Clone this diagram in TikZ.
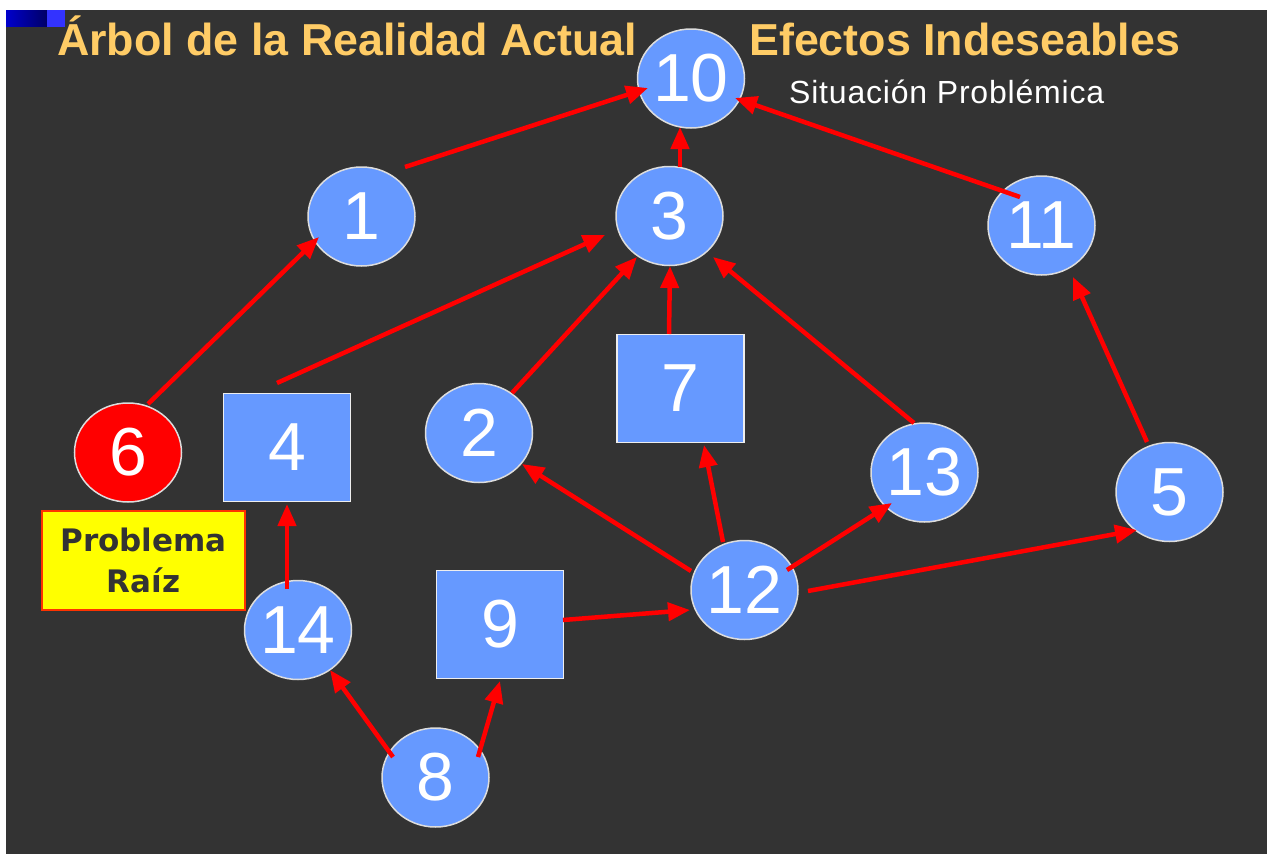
\documentclass[tikz,border=0pt]{standalone}
\usepackage{fontspec}
\setmainfont{Liberation Sans}
\newfontfamily\dejavu{DejaVu Sans}
\newfontfamily\spaced[LetterSpace=2.5]{Liberation Sans}
\usetikzlibrary{arrows.meta,calc,shapes.geometric}
\definecolor{bgdark}{HTML}{333333}
\definecolor{nodeblue}{HTML}{6699FF}
\definecolor{arrred}{HTML}{FF0000}
\definecolor{titlecol}{HTML}{FFCC66}
\definecolor{circline}{HTML}{DDDDDD}
\definecolor{sqline}{HTML}{EEEEEE}
\definecolor{rootyellow}{HTML}{FFFF00}
\definecolor{rootline}{HTML}{FF3300}
\definecolor{roottext}{HTML}{333333}
\definecolor{navyA}{HTML}{0000CC}
\definecolor{navyB}{HTML}{000066}
\definecolor{brightblue}{HTML}{3333FF}
\begin{document}
\begin{tikzpicture}[x=1pt,y=-1pt,
  circ/.style={ellipse, draw=circline, line width=1.5pt, fill=nodeblue,
    minimum width=107pt, minimum height=99pt, inner sep=0pt, text=white,
    font=\fontsize{68}{68}\selectfont},
  sq/.style={rectangle, draw=sqline, line width=1.5pt, fill=nodeblue,
    minimum width=127pt, minimum height=108pt, inner sep=0pt, text=white,
    font=\fontsize{68}{68}\selectfont},
  rootbox/.style={rectangle, draw=rootline, line width=2pt, fill=rootyellow,
    minimum width=203pt, minimum height=99pt, inner sep=0pt, text=roottext,
    align=center, font=\dejavu\bfseries\fontsize{31}{41}\selectfont},
  titletext/.style={anchor=base west, inner sep=0pt, text=titlecol,
    font=\bfseries\fontsize{44.8}{45}\selectfont},
  subtext/.style={anchor=base west, inner sep=0pt, text=white,
    font=\spaced\fontsize{32}{32}\selectfont},
  arr/.style={draw=arrred, line width=4.5pt, -{Triangle[length=22pt,width=18pt]}}]
% page and background
\useasboundingbox (0,0) rectangle (1267,854);
\fill[white] (0,0) rectangle (1267,854);
\fill[bgdark] (6,10) rectangle (1267,854);
\shade[left color=navyA, right color=navyB] (6,10) rectangle (47,26);
\fill[brightblue] (47,10) rectangle (65,27);
% titles
\node[titletext] (t1) at (57,55) {Árbol de la Realidad Actual};
\node[titletext] (t2) at (749,55) {Efectos Indeseables};
\node[subtext] (t3) at (789,103) {Situación Problémica};
% nodes
\node[circ] (n10) at (691,78.5) {10};
\node[circ] (n1) at (361.5,216.5) {1};
\node[circ] (n3) at (669.5,216) {3};
\node[circ] (n11) at (1041.5,225.5) {11};
\node[circ,fill=arrred] (n6) at (128,452.5) {6};
\node[sq] (n4) at (287,447.5) {4};
\node[circ] (n2) at (479,433) {2};
\node[sq] (n7) at (680.5,388.5) {7};
\node[circ] (n13) at (924.5,472.5) {13};
\node[circ] (n5) at (1169.5,492) {5};
\node[circ] (n12) at (744.5,590) {12};
\node[circ] (n14) at (298,630) {14};
\node[sq] (n9) at (500,624.5) {9};
\node[circ] (n8) at (435.5,777.5) {8};
\node[rootbox] (root) at (143.5,560.5) {Problema\\Raíz};
% connectors
\draw[arr] ($(n1)+(43.5,-49.5)$) -- ($(n10)+(-43,9.5)$);
\draw[arr] ($(n3)+(10.5,-49)$) -- ($(n10)+(-11,48.5)$);
\draw[arr] ($(n11)+(-21.5,-28.5)$) -- ($(n10)+(44,19.5)$);
\draw[arr] ($(n6)+(20,-48.5)$) -- ($(n1)+(-42.5,20.5)$);
\draw[arr] ($(n4)+(-10,-64.5)$) -- ($(n3)+(-64.5,19)$);
\draw[arr] ($(n2)+(33,-40)$) -- ($(n3)+(-32.5,41)$);
\draw[arr] ($(n7)+(-11.5,-54.5)$) -- ($(n3)+(0.5,50)$);
\draw[arr] ($(n13)+(-10.5,-49.5)$) -- ($(n3)+(43.5,41)$);
\draw[arr] ($(n5)+(-22.5,-50)$) -- ($(n11)+(31.5,51.5)$);
\draw[arr] ($(n12)+(-53.5,-19)$) -- ($(n2)+(43,31)$);
\draw[arr] ($(n12)+(-21.5,-48)$) -- ($(n7)+(23.5,56.5)$);
\draw[arr] ($(n12)+(42.5,-20)$) -- ($(n13)+(-32.5,30.5)$);
\draw[arr] ($(n12)+(63.5,1)$) -- ($(n5)+(-32.5,38)$);
\draw[arr] ($(n9)+(63,-4.5)$) -- ($(n12)+(-54.5,20)$);
\draw[arr] ($(n14)+(-11,-41)$) -- ($(n4)+(0,56.5)$);
\draw[arr] ($(n8)+(-42.5,-20.5)$) -- ($(n14)+(32,40)$);
\draw[arr] ($(n8)+(42.5,-20.5)$) -- ($(n9)+(0,56.5)$);
\end{tikzpicture}
\end{document}
